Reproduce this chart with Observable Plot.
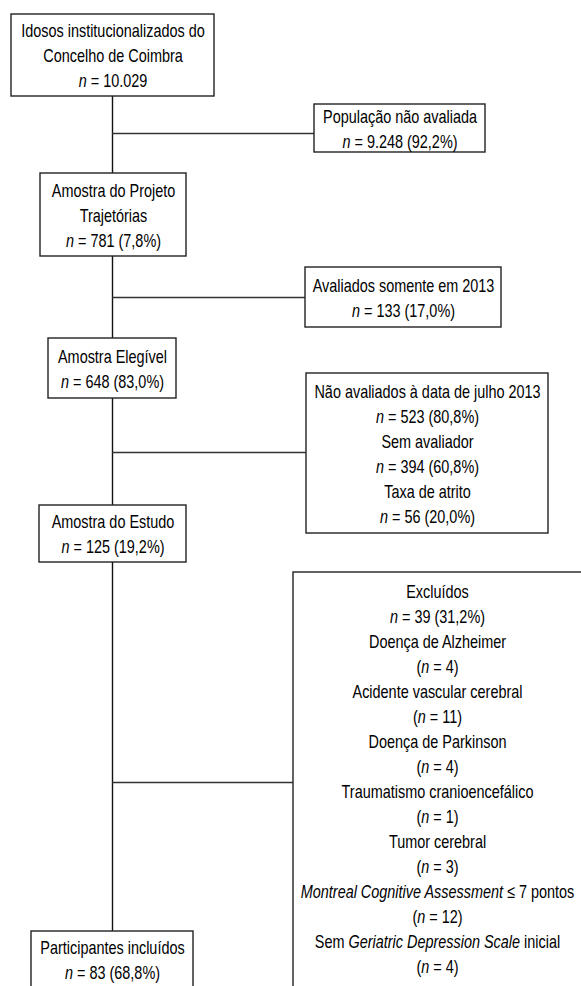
<!DOCTYPE html>
<html>
<head>
<meta charset="utf-8">
<script src="https://cdn.jsdelivr.net/npm/d3@7"></script>
<script src="https://cdn.jsdelivr.net/npm/@observablehq/plot@0.6"></script>
<style>
  html, body { margin: 0; padding: 0; background: #fff; overflow: hidden; }
  #chart svg { overflow: hidden; display: block; }
  #chart text { white-space: pre; }
</style>
</head>
<body>
<div id="chart"></div>
<script>
const mainLabels = [
  ["Idosos institucionalizados do", "Concelho de Coimbra"],
  ["Amostra do Projeto", "Trajetórias"],
  ["Amostra Elegível"],
  ["Amostra do Estudo"],
  ["Participantes incluídos"]
];
const mainN = ["10.029", "781", "648", "125", "83"];
const mainPct = [null, "7,8%", "83,0%", "19,2%", "68,8%"];

const sideLabels = ["População não avaliada", "Avaliados somente em 2013"];
const sideN = ["9.248", "133"];
const sidePct = ["92,2%", "17,0%"];

const naoAvaliadosLabels = ["Não avaliados à data de julho 2013", "Sem avaliador", "Taxa de atrito"];
const naoAvaliadosN = ["523", "394", "56"];
const naoAvaliadosPct = ["80,8%", "60,8%", "20,0%"];

const excluidosLabel = "Excluídos";
const excluidosN = "39";
const excluidosPct = "31,2%";
const exclusionCauses = [
  "Doença de Alzheimer",
  "Acidente vascular cerebral",
  "Doença de Parkinson",
  "Traumatismo cranioencefálico",
  "Tumor cerebral",
  "*Montreal Cognitive Assessment* ≤ 7 pontos",
  "Sem *Geriatric Depression Scale* inicial"
];
const exclusionN = [4, 11, 4, 1, 3, 12, 4];

// ---- Layout (box geometry in page pixels) ----
const mainX = 112;
const layout = [
  {id: "m0", x1: 11,  x2: 214, y1: 14,  y2: 96},
  {id: "s0", x1: 314, x2: 485, y1: 104, y2: 152, cy: 133},
  {id: "m1", x1: 40,  x2: 186, y1: 173, y2: 256},
  {id: "s1", x1: 305, x2: 501, y1: 267, y2: 327, cy: 297},
  {id: "m2", x1: 48,  x2: 176, y1: 338, y2: 398},
  {id: "s2", x1: 306, x2: 548, y1: 373, y2: 533, cy: 452},
  {id: "m3", x1: 39,  x2: 186, y1: 505, y2: 562},
  {id: "s3", x1: 293, x2: 600, y1: 572, y2: 1010, cy: 782, top: 591},
  {id: "m4", x1: 31,  x2: 193, y1: 931, y2: 1010, top: 947}
];
const LH = 25;
const SCALE_X = 0.78;

const nLine = (n, pct) => pct ? `*n* = ${n} (${pct})` : `*n* = ${n}`;

const boxTexts = {
  m0: [...mainLabels[0], nLine(mainN[0], mainPct[0])],
  m1: [...mainLabels[1], nLine(mainN[1], mainPct[1])],
  m2: [...mainLabels[2], nLine(mainN[2], mainPct[2])],
  m3: [...mainLabels[3], nLine(mainN[3], mainPct[3])],
  m4: [...mainLabels[4], nLine(mainN[4], mainPct[4])],
  s0: [sideLabels[0], nLine(sideN[0], sidePct[0])],
  s1: [sideLabels[1], nLine(sideN[1], sidePct[1])],
  s2: naoAvaliadosLabels.flatMap((l, i) => [l, nLine(naoAvaliadosN[i], naoAvaliadosPct[i])]),
  s3: [excluidosLabel, nLine(excluidosN, excluidosPct),
       ...exclusionCauses.flatMap((c, i) => [c, `(*n* = ${exclusionN[i]})`])]
};

const textRows = [];
for (const b of layout) {
  const lines = boxTexts[b.id];
  const cx = b.id === "s3" ? 437 : (b.x1 + b.x2) / 2;
  const cyBox = (b.y1 + b.y2) / 2;
  const start = b.top !== undefined ? b.top : cyBox - (lines.length - 1) * LH / 2;
  lines.forEach((t, i) => textRows.push({x: cx, y: start + i * LH, text: t}));
}

const connectors = layout.filter(b => b.cy !== undefined)
  .map(b => ({x1: mainX, x2: b.x1, y: b.cy}));
const spine = [{x: mainX, y1: layout[0].y2, y2: layout[layout.length - 1].y1}];

const plot = Plot.plot({
  width: 581,
  height: 986,
  margin: 0,
  x: {domain: [0, 581], range: [0, 581], axis: null},
  y: {domain: [0, 986], range: [0, 986], axis: null},
  style: {background: "#fff", fontFamily: "'Liberation Sans', Arimo, Arial, sans-serif"},
  marks: [
    Plot.ruleX(spine, {x: "x", y1: "y1", y2: "y2", stroke: "#111", strokeWidth: 1.4}),
    Plot.ruleY(connectors, {y: "y", x1: "x1", x2: "x2", stroke: "#333", strokeWidth: 1.4}),
    Plot.rect(layout, {x1: "x1", x2: "x2", y1: "y1", y2: "y2", fill: "#fff", stroke: "#222", strokeWidth: 1.4}),
    Plot.text(textRows, {x: "x", y: "y", text: "text", textAnchor: "middle", lineAnchor: "middle",
      fontSize: 18.5, fill: "#000"})
  ]
});

const xs = plot.scale("x"), ys = plot.scale("y");
const textEls = plot.querySelectorAll("g[aria-label='text'] > text");
textEls.forEach((t, i) => {
  const d = textRows[i];
  if (!d) return;
  const s = d.text;
  if (s.includes("*")) {
    while (t.firstChild) t.removeChild(t.firstChild);
    s.split("*").forEach((p, k) => {
      if (!p) return;
      const ts = document.createElementNS("http://www.w3.org/2000/svg", "tspan");
      ts.textContent = p;
      if (k % 2 === 1) ts.setAttribute("font-style", "italic");
      t.appendChild(ts);
    });
  }
  t.removeAttribute("x");
  t.removeAttribute("y");
  t.setAttribute("dy", "0.36em");
  t.setAttribute("transform", `translate(${xs.apply(d.x)},${ys.apply(d.y)}) scale(${SCALE_X},1)`);
});

document.getElementById("chart").appendChild(plot);
</script>
</body>
</html>
